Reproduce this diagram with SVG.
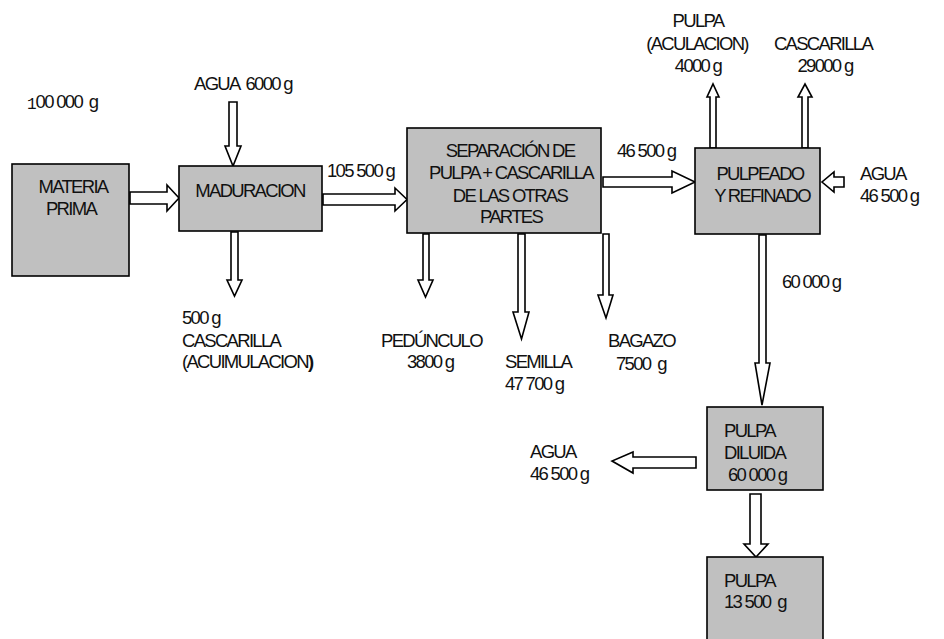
<svg xmlns="http://www.w3.org/2000/svg" width="944" height="639" viewBox="0 0 944 639">
<style>
text{font-family:"Liberation Sans",Arial,sans-serif;font-size:18.5px;letter-spacing:-1.7px;fill:#111;white-space:pre}
.c{text-anchor:middle}
.box{fill:#c0c0c0;stroke:#000;stroke-width:1.6}
.arr{fill:#fff;stroke:#000;stroke-width:1.6;stroke-linejoin:miter}
</style>
<rect width="944" height="639" fill="#fff"/>
<g id="connectors">
<polygon class="arr" points="130,192 167,192 167,185 179,198 167,211 167,204 130,204"/>
<polygon class="arr" points="323,194 395,194 395,188 407,199.5 395,211 395,205 323,205"/>
<polygon class="arr" points="603,177 672,177 672,171 695,182 672,193 672,187 603,187"/>
<polygon class="arr" points="844,177 834,177 834,172 822,182 834,192 834,187 844,187"/>
<polygon class="arr" points="710,148 710,97 707,97 713,84 719,97 716,97 716,148"/>
<polygon class="arr" points="802,148 802,97 798,97 805,84 812,97 808,97 808,148"/>
<polygon class="arr" points="229,102 229,146 225,146 233,166 241,146 237,146 237,102"/>
<polygon class="arr" points="231,232 231,280 227,280 234.5,296 242,280 238,280 238,232"/>
<polygon class="arr" points="423,234 423,280 418,280 425.5,297 433,280 429,280 429,234"/>
<polygon class="arr" points="518,234 518,312 513,312 521.5,339 529,312 525,312 525,234"/>
<polygon class="arr" points="603,234 603,295 598,295 606,318 613,295 609,295 609,234"/>
<polygon class="arr" points="759,235 759,363 755,363 762,405 770,363 766,363 766,235"/>
<polygon class="arr" points="696,457 633,457 633,452 612,461 633,473 633,468 696,468"/>
<polygon class="arr" points="750,494 750,544 744,544 756,557 768,544 761,544 761,494"/>
</g>
<g id="materia-prima">
<rect class="box" x="12" y="164" width="117" height="112"/>
<text class="c" x="73" y="193">MATERIA</text>
<text class="c" x="71" y="215">PRIMA</text>
</g>
<g id="maduracion">
<rect class="box" x="179" y="166" width="143" height="65"/>
<text class="c" x="250" y="197">MADURACION</text>
</g>
<g id="separacion">
<rect class="box" x="407" y="128" width="194" height="105"/>
<text class="c" x="510" y="157">SEPARACIÓN DE</text>
<text class="c" x="511" y="179">PULPA + CASCARILLA</text>
<text class="c" x="510" y="202">DE LAS OTRAS</text>
<text class="c" x="511" y="223">PARTES</text>
</g>
<g id="pulpeado">
<rect class="box" x="695" y="148" width="125" height="86"/>
<text class="c" x="760" y="180">PULPEADO</text>
<text class="c" x="762" y="202">Y REFINADO</text>
</g>
<g id="pulpa-diluida">
<rect class="box" x="707" y="407" width="116" height="83"/>
<text x="724" y="437">PULPA</text>
<text x="724" y="459">DILUIDA</text>
<text x="728" y="481">60 000 g</text>
</g>
<g id="pulpa">
<rect class="box" x="707" y="557" width="116" height="90"/>
<text x="724" y="587">PULPA</text>
<text x="724" y="608">13 500  g</text>
</g>
<g id="labels">
<text x="27" y="108"><tspan font-family="Liberation Mono,monospace" font-size="16" letter-spacing="-1" dy="1">1</tspan><tspan dy="-1">00 000  g</tspan></text>
<text x="194" y="90">AGUA  6000 g</text>
<text x="327" y="177">105 500 g</text>
<text x="617" y="157">46 500 g</text>
<text class="c" x="698" y="27">PULPA</text>
<text class="c" x="697" y="50">(ACULACION)</text>
<text class="c" x="698" y="72">4000 g</text>
<text class="c" x="823" y="50">CASCARILLA</text>
<text class="c" x="825" y="72">29000 g</text>
<text x="860" y="180">AGUA</text>
<text x="860" y="202">46 500 g</text>
<text x="182" y="324">500 g</text>
<text x="182" y="347">CASCARILLA</text>
<text x="182" y="368">(ACUIMULACION<tspan font-weight="bold">)</tspan></text>
<text x="381" y="347">PEDÚNCULO</text>
<text x="407" y="368">3800 g</text>
<text x="505" y="368">SEMILLA</text>
<text x="505" y="390">47 700 g</text>
<text x="608" y="347">BAGAZO</text>
<text x="616" y="370">7500  g</text>
<text x="782" y="288">60 000 g</text>
<text x="530" y="458">AGUA</text>
<text x="530" y="480">46 500 g</text>
</g>
</svg>
